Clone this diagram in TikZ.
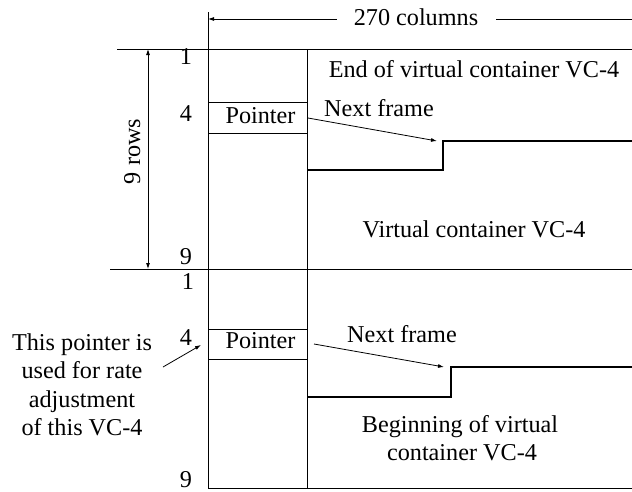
\documentclass[tikz,border=0pt]{standalone}
\usepackage{fontspec}
\setmainfont{Liberation Serif}
\usetikzlibrary{arrows.meta}
\begin{document}
\begin{tikzpicture}[x=1pt,y=-1pt,
  thin line/.style={line width=0.9pt},
  thick line/.style={line width=2.2pt},
  arr/.style={line width=0.8pt,-{Latex[length=6pt,width=4pt]}},
  lbl/.style={inner sep=0pt,anchor=base,font=\fontsize{24.2}{28.5}\selectfont},
]
\useasboundingbox (0,0) rectangle (632,491);
% grid
\coordinate (c1t) at (208,12);
\coordinate (c1b) at (208,488);
\coordinate (c2t) at (307.5,49);
\coordinate (c2b) at (307.5,488);
\coordinate (h1l) at (117,49);
\coordinate (h1r) at (632,49);
\coordinate (h2l) at (110,269);
\coordinate (h2r) at (632,269);
\coordinate (h3l) at (208,488);
\coordinate (h3r) at (632,488);
\draw[thin line] (c1t) -- (c1b);
\draw[thin line] (c2t) -- (c2b);
\draw[thin line] (h1l) -- (h1r);
\draw[thin line] (h2l) -- (h2r);
\draw[thin line] (h3l) -- (h3r);
% pointer boxes
\coordinate (p1a) at (208,102);
\coordinate (p1b) at (307.5,133);
\coordinate (p2a) at (208,329);
\coordinate (p2b) at (307.5,359);
\draw[thin line] (p1a) -- (p1a -| p1b) (p1b -| p1a) -- (p1b);
\draw[thin line] (p2a) -- (p2a -| p2b) (p2b -| p2a) -- (p2b);
\node[lbl] (ptr1) at (260.5,123) {Pointer};
\node[lbl] (ptr2) at (260.5,348) {Pointer};
% 270 columns
\node[lbl] (cols) at (416,25) {270 columns};
\coordinate (colL) at (208,19);
\coordinate (colR) at (632,19);
\draw[arr] (cols.west |- colL) ++(-17,0) coordinate (colLa) -- (colL);
\draw[line width=0.8pt] (cols.east |- colR) ++(18,0) coordinate (colRa) -- (colR);
% 9 rows
\coordinate (r1) at (148,49);
\coordinate (r2) at (148,269);
\draw[line width=0.8pt,{Latex[length=6pt,width=4pt]}-{Latex[length=6pt,width=4pt]}] (r1) -- (r2);
\node[lbl,rotate=90] (rows) at (140,151.5) {9 rows};
% row numbers
\node[lbl] (n1a) at (186,64) {1};
\node[lbl] (n4a) at (186,121) {4};
\node[lbl] (n9a) at (186,264) {9};
\node[lbl] (n1b) at (188,289) {1};
\node[lbl] (n4b) at (186,345) {4};
\node[lbl] (n9b) at (186,487) {9};
% upper frame
\node[lbl] (end) at (474,77) {End of virtual container VC-4};
\node[lbl] (nf1) at (379,116) {Next frame};
\node[lbl] (vc) at (474,237) {Virtual container VC-4};
\coordinate (s1a) at (307.5,170);
\coordinate (s1b) at (443,170);
\coordinate (s1c) at (443,141);
\coordinate (s1d) at (632,141);
\draw[thick line] (s1a) -- (s1b) -- (s1c) -- (s1d);
\coordinate (a1s) at (308,118);
\coordinate (a1e) at (437,141);
\draw[arr] (a1s) -- (a1e);
% lower frame
\node[lbl] (nf2) at (402,342) {Next frame};
\node[lbl] (beg1) at (460,432) {Beginning of virtual};
\node[lbl] (beg2) at (462,460) {container VC-4};
\coordinate (s2a) at (307.5,397);
\coordinate (s2b) at (451,397);
\coordinate (s2c) at (451,367);
\coordinate (s2d) at (632,367);
\draw[thick line] (s2a) -- (s2b) -- (s2c) -- (s2d);
\coordinate (a2s) at (314,344);
\coordinate (a2e) at (444,367);
\draw[arr] (a2s) -- (a2e);
% left note
\node[lbl] (t1) at (82,350) {This pointer is};
\node[lbl] (t2) at (82,378) {used for rate};
\node[lbl] (t3) at (82,407) {adjustment};
\node[lbl] (t4) at (82,435) {of this VC-4};
\coordinate (a3s) at (163,367);
\coordinate (a3e) at (201,345);
\draw[arr] (a3s) -- (a3e);
\end{tikzpicture}
\end{document}
